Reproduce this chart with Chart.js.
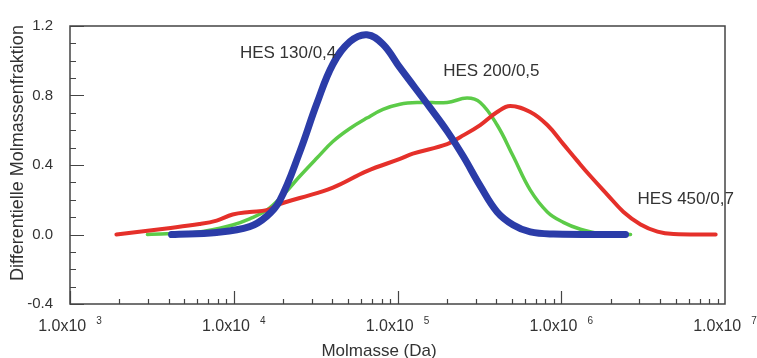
<!DOCTYPE html>
<html>
<head>
<meta charset="utf-8">
<script src="https://cdn.jsdelivr.net/npm/chart.js@4.4.1/dist/chart.umd.min.js"></script>
<style>
  html, body { margin: 0; padding: 0; background: #fff; }
</style>
</head>
<body>
<canvas id="molChart" width="757" height="358"></canvas>
<script>
// Molmasse (Da) und differentielle Molmassenfraktion
const massBlue = [4170, 7860, 12500, 15900, 19100, 25300, 32200, 40300, 51200, 65000, 81500, 103500, 158000, 201000, 252000, 320000, 406000, 509000, 647000, 895000, 2470000];
const fracBlue = [0.0, 0.012, 0.045, 0.105, 0.195, 0.475, 0.755, 0.98, 1.11, 1.15, 1.095, 0.96, 0.73, 0.595, 0.45, 0.28, 0.13, 0.055, 0.015, 0.003, 0.0];

const massGreen = [2970, 6180, 9840, 12500, 15900, 19900, 25300, 32200, 40300, 51200, 65000, 81500, 103500, 137000, 201000, 266000, 320000, 406000, 509000, 647000, 822000, 1030000, 1310000, 1730000, 2650000];
const fracGreen = [0.0, 0.015, 0.055, 0.09, 0.14, 0.225, 0.335, 0.44, 0.535, 0.61, 0.67, 0.72, 0.75, 0.76, 0.76, 0.785, 0.76, 0.63, 0.45, 0.255, 0.13, 0.07, 0.03, 0.005, 0.0];

const massRed = [1920, 3880, 6180, 7860, 9840, 12500, 15900, 19100, 25300, 40300, 65000, 103500, 124000, 201000, 241000, 320000, 406000, 488000, 647000, 822000, 1030000, 1250000, 1510000, 1910000, 2400000, 3050000, 3870000, 4850000, 8770000];
const fracRed = [0.0, 0.035, 0.06, 0.08, 0.115, 0.13, 0.14, 0.175, 0.21, 0.27, 0.365, 0.435, 0.465, 0.52, 0.56, 0.63, 0.705, 0.74, 0.705, 0.63, 0.52, 0.425, 0.335, 0.23, 0.13, 0.058, 0.017, 0.003, 0.0];

const seriesNames = ["HES 130/0,4", "HES 200/0,5", "HES 450/0,7"];
// Position der Beschriftungen (Molmasse, Fraktion)
const labelMass = [10900, 190000, 2920000];
const labelFrac = [1.04, 0.94, 0.2];

const xDecades = [3, 4, 5, 6, 7];
const yMajorTicks = [-0.4, 0.0, 0.4, 0.8, 1.2];

function toPoints(xs, ys) {
    return xs.map((m, i) => ({ x: m, y: ys[i] }));
}

const textColor = "#333";
const fontFamily = "'Liberation Sans', Arial, sans-serif";

const decorPlugin = {
    id: "decor",
    afterDraw(chart) {
        const ctx = chart.ctx;
        const xs = chart.scales.x;
        const ys = chart.scales.y;
        const { left, right, top, bottom } = chart.chartArea;

        ctx.save();
        ctx.fillStyle = textColor;
        ctx.textBaseline = "middle";

        // Kurvenbeschriftungen (unter dem Rahmen)
        ctx.font = "17px " + fontFamily;
        ctx.textAlign = "left";
        seriesNames.forEach((name, i) => {
            ctx.fillText(name, xs.getPixelForValue(labelMass[i]), ys.getPixelForValue(labelFrac[i]));
        });

        // Rahmen
        ctx.strokeStyle = "#444";
        ctx.lineWidth = 1.5;
        ctx.strokeRect(left, top, right - left, bottom - top);

        // Striche nach innen, x-Achse
        ctx.lineWidth = 1.2;
        ctx.beginPath();
        for (let e = xDecades[0]; e < xDecades[xDecades.length - 1]; e++) {
            for (let k = 1; k <= 9; k++) {
                const px = Math.round(xs.getPixelForValue(k * Math.pow(10, e))) + 0.5;
                const len = k === 1 ? 13 : 5;
                ctx.moveTo(px, bottom);
                ctx.lineTo(px, bottom - len);
            }
        }
        // Striche nach innen, y-Achse
        for (let i = -4; i <= 12; i++) {
            const py = Math.round(ys.getPixelForValue(i / 10)) + 0.5;
            const len = i % 4 === 0 ? 14 : 6;
            ctx.moveTo(left, py);
            ctx.lineTo(left + len, py);
        }
        ctx.stroke();

        // x-Beschriftung 1.0x10^n
        ctx.textAlign = "left";
        xDecades.forEach(e => {
            const px = xs.getPixelForValue(Math.pow(10, e));
            ctx.font = "16px " + fontFamily;
            const main = "1.0x10";
            const wMain = ctx.measureText(main).width;
            ctx.font = "10px " + fontFamily;
            const wExp = ctx.measureText(String(e)).width;
            const gap = 10;
            const x0 = px - (wMain + gap + wExp) / 2;
            ctx.font = "16px " + fontFamily;
            ctx.fillText(main, x0, bottom + 23);
            ctx.font = "10px " + fontFamily;
            ctx.fillText(String(e), x0 + wMain + gap, bottom + 17);
        });

        // Achsentitel
        ctx.font = "17px " + fontFamily;
        ctx.textAlign = "center";
        ctx.fillText("Molmasse (Da)", 379, 351);
        ctx.save();
        ctx.translate(18, 153);
        ctx.rotate(-Math.PI / 2);
        ctx.font = "18px " + fontFamily;
        ctx.fillText("Differentielle Molmassenfraktion", 0, 0);
        ctx.restore();
        ctx.restore();
    }
};

new Chart(document.getElementById("molChart"), {
    type: "line",
    data: {
        datasets: [
            {
                label: seriesNames[0],
                data: toPoints(massBlue, fracBlue),
                borderColor: "#2b3ca8",
                borderWidth: 7
            },
            {
                label: seriesNames[2],
                data: toPoints(massRed, fracRed),
                borderColor: "#e5302a",
                borderWidth: 4
            },
            {
                label: seriesNames[1],
                data: toPoints(massGreen, fracGreen),
                borderColor: "#5ccb48",
                borderWidth: 3.5
            }
        ]
    },
    options: {
        responsive: false,
        animation: false,
        devicePixelRatio: 1,
        layout: { padding: { left: 0, right: 32, top: 19, bottom: 0 } },
        elements: {
            point: { radius: 0 },
            line: { tension: 0.4, borderCapStyle: "round", borderJoinStyle: "round" }
        },
        plugins: {
            legend: { display: false },
            tooltip: { enabled: false }
        },
        scales: {
            x: {
                type: "logarithmic",
                min: 1000,
                max: 10000000,
                grid: { display: false },
                border: { display: false },
                ticks: { display: false },
                afterBuildTicks: scale => {
                    scale.ticks = xDecades.map(e => ({ value: Math.pow(10, e) }));
                },
                afterFit: scale => { scale.height = 54; }
            },
            y: {
                min: -0.4,
                max: 1.2,
                grid: { display: false, drawTicks: false },
                border: { display: false },
                ticks: {
                    stepSize: 0.4,
                    padding: 17,
                    color: textColor,
                    font: { family: fontFamily, size: 15 },
                    callback: v => v.toFixed(1)
                },
                afterBuildTicks: scale => {
                    scale.ticks = yMajorTicks.map(v => ({ value: v }));
                },
                afterFit: scale => { scale.width = 70; }
            }
        }
    },
    plugins: [decorPlugin]
});
</script>
</body>
</html>
